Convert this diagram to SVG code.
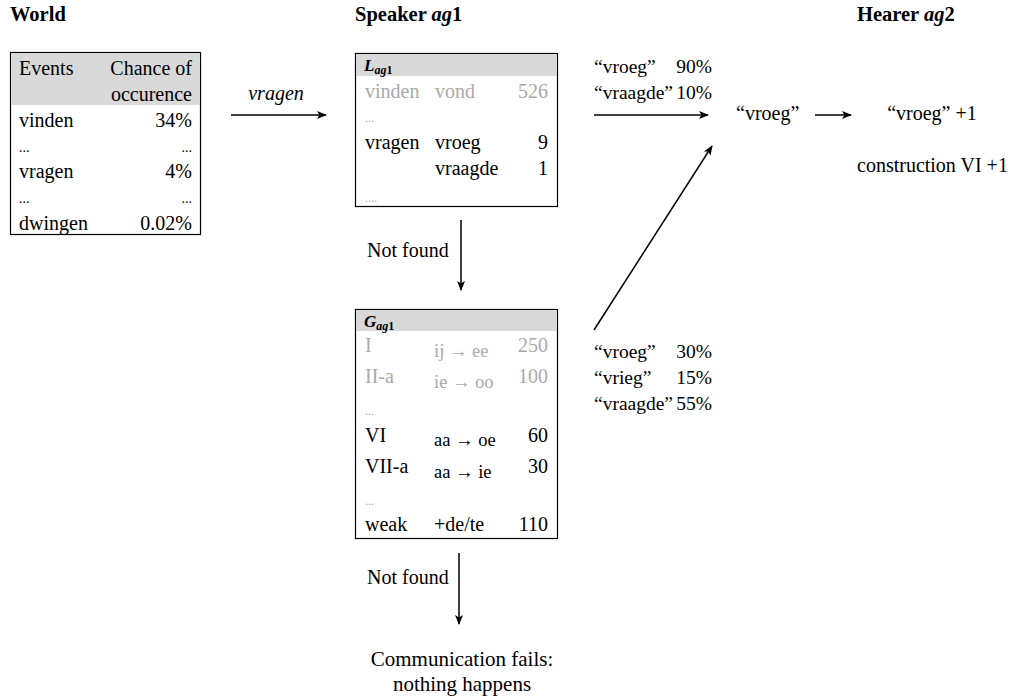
<svg xmlns="http://www.w3.org/2000/svg" width="1011" height="697" viewBox="0 0 1011 697">
<defs>
<marker id="ah" viewBox="0 0 10 10" refX="9" refY="5" markerWidth="10" markerHeight="10" orient="auto" markerUnits="userSpaceOnUse"><path d="M0,1 L10,5 L0,9 L2.5,5 z" fill="#000"/></marker>
<style>
.b{font-weight:bold}
.g{fill:#aaa}
.r{text-anchor:end}
.m{text-anchor:middle}
.it{font-style:italic}
.box{fill:#fff;stroke:#000;stroke-width:1.2}
.hd{fill:#d9d9d9}
.c{stroke:#000;stroke-width:1.5;fill:none;marker-end:url(#ah)}
</style>
</defs>
<rect width="1011" height="697" fill="#fff"/>
<text font-family="Liberation Serif, serif" font-size="20.5" class="b" x="10" y="21">World</text>
<text font-family="Liberation Serif, serif" font-size="20.5" class="b" x="355" y="21">Speaker <tspan font-style="italic">ag</tspan>1</text>
<text font-family="Liberation Serif, serif" font-size="20.5" class="b" x="857" y="21">Hearer <tspan font-style="italic">ag</tspan>2</text>

<g id="world">
<rect class="box" x="10.5" y="52.5" width="190" height="182"/>
<rect class="hd" x="11" y="53" width="189" height="52"/>
<text font-family="Liberation Serif, serif" font-size="20" x="19" y="75">Events</text>
<text font-family="Liberation Serif, serif" font-size="20" class="r" x="192" y="75">Chance of</text>
<text font-family="Liberation Serif, serif" font-size="20" class="r" x="192" y="101">occurence</text>
<text font-family="Liberation Serif, serif" font-size="20" x="19" y="127">vinden</text>
<text font-family="Liberation Serif, serif" font-size="20" class="r" x="192" y="127">34%</text>
<text font-family="Liberation Serif, serif" font-size="14" x="19" y="152">...</text>
<text font-family="Liberation Serif, serif" font-size="14" class="r" x="192" y="152">...</text>
<text font-family="Liberation Serif, serif" font-size="20" x="19" y="178">vragen</text>
<text font-family="Liberation Serif, serif" font-size="20" class="r" x="192" y="178">4%</text>
<text font-family="Liberation Serif, serif" font-size="14" x="19" y="203">...</text>
<text font-family="Liberation Serif, serif" font-size="14" class="r" x="192" y="203">...</text>
<text font-family="Liberation Serif, serif" font-size="20" x="19" y="230">dwingen</text>
<text font-family="Liberation Serif, serif" font-size="20" class="r" x="192" y="230">0.02%</text>
</g>

<g id="lexicon">
<rect class="box" x="355.5" y="53.5" width="202" height="153"/>
<rect class="hd" x="356" y="54" width="201" height="22"/>
<text font-family="Liberation Serif, serif" font-size="17" class="it b" x="364" y="71">L<tspan font-size="12" dy="3">ag</tspan><tspan font-style="normal" font-size="12">1</tspan></text>
<text font-family="Liberation Serif, serif" font-size="20" class="g" x="365" y="98">vinden</text>
<text font-family="Liberation Serif, serif" font-size="20" class="g" x="435" y="98">vond</text>
<text font-family="Liberation Serif, serif" font-size="20" class="g r" x="548" y="98">526</text>
<text font-family="Liberation Serif, serif" font-size="12" class="g" x="365" y="122">...</text>
<text font-family="Liberation Serif, serif" font-size="20" x="365" y="149">vragen</text>
<text font-family="Liberation Serif, serif" font-size="20" x="435" y="149">vroeg</text>
<text font-family="Liberation Serif, serif" font-size="20" class="r" x="548" y="149">9</text>
<text font-family="Liberation Serif, serif" font-size="20" x="435" y="175">vraagde</text>
<text font-family="Liberation Serif, serif" font-size="20" class="r" x="548" y="175">1</text>
<text font-family="Liberation Serif, serif" font-size="12" class="g" x="365" y="202">....</text>
</g>

<g id="grammar">
<rect class="box" x="355.5" y="309.5" width="202" height="229"/>
<rect class="hd" x="356" y="310" width="201" height="21"/>
<text font-family="Liberation Serif, serif" font-size="17" class="it b" x="364" y="327">G<tspan font-size="12" dy="3">ag</tspan><tspan font-style="normal" font-size="12">1</tspan></text>
<text font-family="Liberation Serif, serif" font-size="20" class="g" x="365" y="352">I</text>
<text font-family="Liberation Serif, serif" font-size="18.5" class="g" x="434" y="357">ij → ee</text>
<text font-family="Liberation Serif, serif" font-size="20" class="g r" x="548" y="352">250</text>
<text font-family="Liberation Serif, serif" font-size="20" class="g" x="365" y="383">II-a</text>
<text font-family="Liberation Serif, serif" font-size="18.5" class="g" x="434" y="388">ie → oo</text>
<text font-family="Liberation Serif, serif" font-size="20" class="g r" x="548" y="383">100</text>
<text font-family="Liberation Serif, serif" font-size="12" class="g" x="365" y="415">...</text>
<text font-family="Liberation Serif, serif" font-size="20" x="365" y="442">VI</text>
<text font-family="Liberation Serif, serif" font-size="18.5" x="434" y="446">aa → oe</text>
<text font-family="Liberation Serif, serif" font-size="20" class="r" x="548" y="442">60</text>
<text font-family="Liberation Serif, serif" font-size="20" x="365" y="473">VII-a</text>
<text font-family="Liberation Serif, serif" font-size="18.5" x="434" y="478">aa → ie</text>
<text font-family="Liberation Serif, serif" font-size="20" class="r" x="548" y="473">30</text>
<text font-family="Liberation Serif, serif" font-size="12" class="g" x="365" y="505">...</text>
<text font-family="Liberation Serif, serif" font-size="20" x="365" y="531">weak</text>
<text font-family="Liberation Serif, serif" font-size="20" x="434" y="531">+de/te</text>
<text font-family="Liberation Serif, serif" font-size="20" class="r" x="548" y="531">110</text>
</g>

<g id="labels">
<text font-family="Liberation Serif, serif" font-size="20" class="it m" x="276" y="100">vragen</text>
<text font-family="Liberation Serif, serif" font-size="20" x="367" y="257">Not found</text>
<text font-family="Liberation Serif, serif" font-size="20" x="367" y="584">Not found</text>
<text font-family="Liberation Serif, serif" font-size="21" class="m" x="462" y="666">Communication fails:</text>
<text font-family="Liberation Serif, serif" font-size="21" class="m" x="462" y="691">nothing happens</text>
<text font-family="Liberation Serif, serif" font-size="19.5" x="594" y="73">“vroeg”</text>
<text font-family="Liberation Serif, serif" font-size="19.5" class="r" x="712" y="73">90%</text>
<text font-family="Liberation Serif, serif" font-size="19.5" x="594" y="99">“vraagde”</text>
<text font-family="Liberation Serif, serif" font-size="19.5" class="r" x="712" y="99">10%</text>
<text font-family="Liberation Serif, serif" font-size="20" x="736" y="120">“vroeg”</text>
<text font-family="Liberation Serif, serif" font-size="20" class="m" x="932" y="120">“vroeg” +1</text>
<text font-family="Liberation Serif, serif" font-size="20" x="857" y="172">construction VI +1</text>
<text font-family="Liberation Serif, serif" font-size="19.5" x="594" y="358">“vroeg”</text>
<text font-family="Liberation Serif, serif" font-size="19.5" class="r" x="712" y="358">30%</text>
<text font-family="Liberation Serif, serif" font-size="19.5" x="594" y="384">“vrieg”</text>
<text font-family="Liberation Serif, serif" font-size="19.5" class="r" x="712" y="384">15%</text>
<text font-family="Liberation Serif, serif" font-size="19.5" x="594" y="410">“vraagde”</text>
<text font-family="Liberation Serif, serif" font-size="19.5" class="r" x="712" y="410">55%</text>
</g>

<g id="connectors">
<line class="c" x1="231" y1="115" x2="326" y2="115"/>
<line class="c" x1="461" y1="220" x2="461" y2="290"/>
<line class="c" x1="459" y1="553" x2="459" y2="624"/>
<line class="c" x1="594" y1="115" x2="708" y2="115"/>
<line class="c" x1="815" y1="115" x2="851" y2="115"/>
<line class="c" x1="594" y1="330" x2="712" y2="146"/>
</g>
</svg>
